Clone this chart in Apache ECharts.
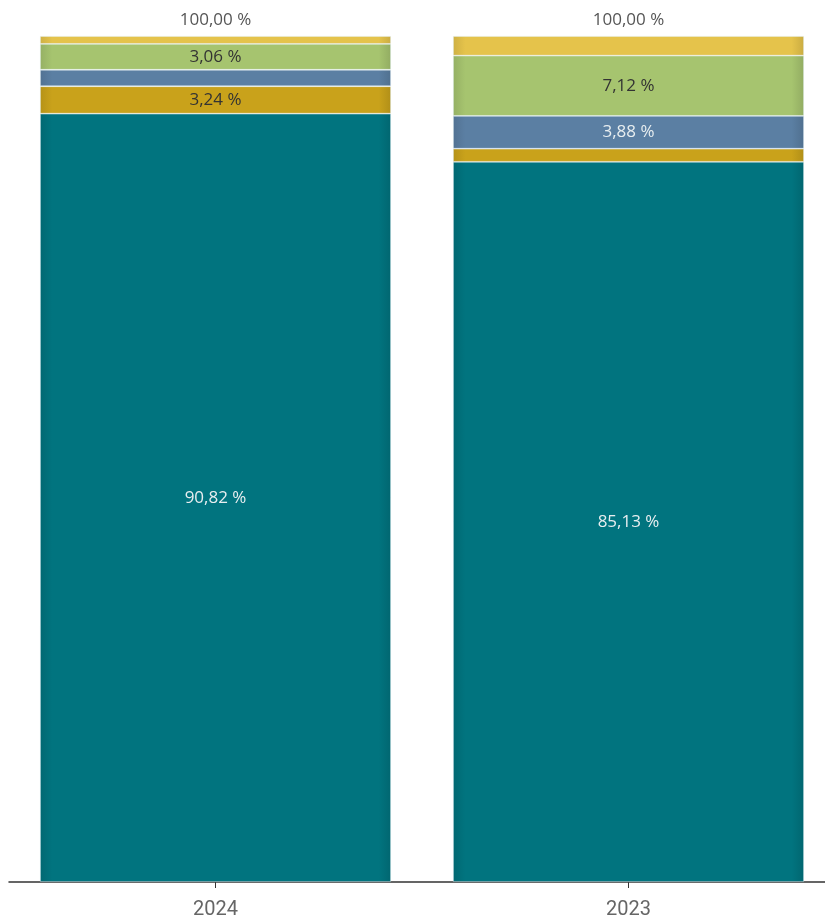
<!DOCTYPE html>
<html>
<head>
<meta charset="utf-8">
<script src="https://cdn.jsdelivr.net/npm/echarts@6/dist/echarts.min.js"></script>
<style>
html,body{margin:0;padding:0;background:#fff;overflow:hidden;}
#c{width:836px;height:921px;}
</style>
</head>
<body>
<div id="c"></div>
<script>
const categories = ['2024', '2023'];
const seriesNames = ['A', 'B', 'C', 'D', 'E'];
const valuesA = [90.82, 85.13];
const valuesB = [3.24, 1.55];
const valuesC = [1.95, 3.88];
const valuesD = [3.06, 7.12];
const valuesE = [0.93, 2.32];
const colors = ['#01747f', '#c9a21b', '#5b7fa3', '#a6c46f', '#e5c34b'];
const labelColors = ['#e8eef0', '#333333', '#e8eef0', '#333333', '#333333'];
const labelThreshold = 3;

const allValues = [valuesA, valuesB, valuesC, valuesD, valuesE];
const totals = categories.map((_, i) => allValues.reduce((s, arr) => s + arr[i], 0));
const fmt = v => v.toFixed(2).replace('.', ',') + ' %';

function darken(hex, f) {
  const n = parseInt(hex.slice(1), 16);
  const r = Math.round(((n >> 16) & 255) * f), g = Math.round(((n >> 8) & 255) * f), b = Math.round((n & 255) * f);
  return 'rgb(' + r + ',' + g + ',' + b + ')';
}
function grad(hex) {
  return new echarts.graphic.LinearGradient(0, 0, 1, 0, [
    { offset: 0, color: darken(hex, 0.9) },
    { offset: 0.035, color: hex },
    { offset: 0.965, color: hex },
    { offset: 1, color: darken(hex, 0.88) }
  ]);
}

const series = allValues.map((vals, k) => ({
  name: seriesNames[k],
  type: 'bar',
  stack: 'total',
  barWidth: 351,
  data: vals,
  itemStyle: { color: grad(colors[k]), borderColor: 'rgba(225,240,245,0.55)', borderWidth: 0.8 },
  label: {
    show: true,
    position: 'inside',
    color: labelColors[k],
    fontFamily: 'Open Sans',
    fontSize: 17,
    formatter: p => p.value >= labelThreshold ? fmt(p.value) : ''
  }
}));
series.push({
  name: 'total',
  type: 'bar',
  stack: 'total',
  barWidth: 351,
  data: totals.map(() => 0),
  itemStyle: { color: 'transparent' },
  label: {
    show: true,
    position: 'top',
    distance: 7,
    color: '#555',
    fontFamily: 'Open Sans',
    fontSize: 17,
    formatter: p => fmt(totals[p.dataIndex])
  }
});

const chart = echarts.init(document.getElementById('c'), null, { renderer: 'canvas' });
chart.setOption({
  animation: false,
  grid: { left: 9, top: 36, right: 1, bottom: 39, containLabel: false },
  xAxis: {
    type: 'category',
    data: categories,
    axisLine: { lineStyle: { color: '#333', width: 1.5 } },
    axisTick: { show: true, alignWithLabel: true, length: 6, lineStyle: { color: '#333' } },
    axisLabel: { color: '#666', fontFamily: 'Roboto', fontSize: 20, margin: 18 }
  },
  yAxis: {
    type: 'value',
    min: 0,
    max: 100,
    show: false,
    splitLine: { show: false }
  },
  series: series
});
</script>
</body>
</html>
